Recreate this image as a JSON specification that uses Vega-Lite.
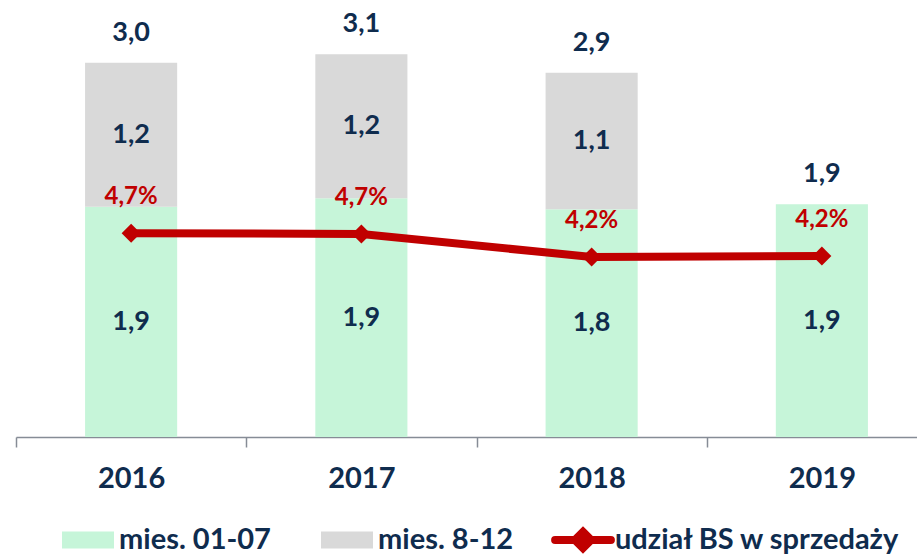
{
  "$schema": "https://vega.github.io/schema/vega-lite/v6.json",
  "autosize": "none",
  "width": 901,
  "height": 437,
  "padding": {"left": 16, "top": 0, "right": 0, "bottom": 119},
  "background": "white",
  "config": {
    "view": {"stroke": null},
    "font": "Lato",
    "text": {"font": "Lato"}
  },
  "datasets": {
    "bars": [
      {"year": "2016", "series": "mies. 01-07", "v": 1.87, "label": "1,9"},
      {"year": "2016", "series": "mies. 8-12", "v": 1.17, "label": "1,2"},
      {"year": "2017", "series": "mies. 01-07", "v": 1.94, "label": "1,9"},
      {"year": "2017", "series": "mies. 8-12", "v": 1.17, "label": "1,2"},
      {"year": "2018", "series": "mies. 01-07", "v": 1.85, "label": "1,8"},
      {"year": "2018", "series": "mies. 8-12", "v": 1.11, "label": "1,1"},
      {"year": "2019", "series": "mies. 01-07", "v": 1.89, "label": "1,9"}
    ],
    "totals": [
      {"year": "2016", "total": 3.04, "label": "3,0"},
      {"year": "2017", "total": 3.11, "label": "3,1"},
      {"year": "2018", "total": 2.96, "label": "2,9"},
      {"year": "2019", "total": 1.89, "label": "1,9"}
    ],
    "share": [
      {"year": "2016", "pct": 4.72, "label": "4,7%", "series": "udział BS w sprzedaży"},
      {"year": "2017", "pct": 4.70, "label": "4,7%", "series": "udział BS w sprzedaży"},
      {"year": "2018", "pct": 4.19, "label": "4,2%", "series": "udział BS w sprzedaży"},
      {"year": "2019", "pct": 4.21, "label": "4,2%", "series": "udział BS w sprzedaży"}
    ]
  },
  "encoding": {
    "x": {
      "field": "year", "type": "nominal",
      "scale": {"range": [0, 921], "paddingInner": 0, "paddingOuter": 0},
      "axis": {
        "title": null, "labelAngle": 0, "tickBand": "extent",
        "domainColor": "#868C96", "domainWidth": 1.5, "tickColor": "#868C96", "tickWidth": 1.5, "tickSize": 10,
        "labelFont": "Lato", "labelFontSize": 29, "labelFontWeight": "bold", "labelColor": "#0F2C4E",
        "labelPadding": 17, "grid": false
      }
    }
  },
  "layer": [
    {
      "layer": [
        {
          "data": {"name": "bars"},
          "mark": {"type": "bar", "width": {"band": 0.4}},
          "encoding": {
            "y": {"field": "v", "type": "quantitative", "aggregate": "sum", "stack": "zero", "scale": {"domain": [0, 3.55]}, "axis": null},
            "color": {
              "field": "series", "type": "nominal",
              "scale": {"domain": ["mies. 01-07", "mies. 8-12"], "range": ["#C6F5D9", "#D9D9D9"]},
              "legend": {
                "title": null, "orient": "none", "direction": "horizontal", "legendX": 46, "legendY": 514,
                "symbolType": "M-1,-0.33H1V0.33H-1Z", "symbolSize": 2704, "symbolStrokeWidth": 0,
                "labelFont": "Lato", "labelFontSize": 29, "labelFontWeight": "bold", "labelColor": "#0F2C4E",
                "labelOffset": 5, "columnPadding": 50, "padding": 0, "labelLimit": 400
              }
            },
            "order": {"field": "series", "sort": "ascending"}
          }
        },
        {
          "data": {"name": "bars"},
          "transform": [
            {"stack": "v", "groupby": ["year"], "sort": [{"field": "series"}], "as": ["v0", "v1"]},
            {"fold": ["v0", "v1"], "as": ["k", "pos"]}
          ],
          "mark": {"type": "text", "fontSize": 27, "fontWeight": "bold", "color": "#0F2C4E", "baseline": "middle"},
          "encoding": {
            "y": {"field": "pos", "type": "quantitative", "aggregate": "mean", "scale": {"domain": [0, 3.55]}, "axis": null},
            "detail": {"field": "series"},
            "text": {"field": "label"}
          }
        },
        {
          "data": {"name": "totals"},
          "mark": {"type": "text", "fontSize": 27, "fontWeight": "bold", "color": "#0F2C4E", "baseline": "middle", "dy": -30},
          "encoding": {
            "y": {"field": "total", "type": "quantitative", "scale": {"domain": [0, 3.55]}, "axis": null},
            "text": {"field": "label"}
          }
        }
      ]
    },
    {
      "data": {"name": "share"},
      "layer": [
        {
          "mark": {"type": "line", "strokeWidth": 8},
          "encoding": {
            "y": {"field": "pct", "type": "quantitative", "scale": {"domain": [0.19, 9.9]}, "axis": null},
            "stroke": {
              "field": "series", "type": "nominal",
              "scale": {"domain": ["udział BS w sprzedaży"], "range": ["#C00000"]},
              "legend": {
                "title": null, "orient": "none", "legendX": 533, "legendY": 506,
                "symbolType": "M-0.93,0H0.93M0,-0.27L0.27,0L0,0.27L-0.27,0Z", "symbolSize": 3600, "symbolStrokeWidth": 8,
                "labelFont": "Lato", "labelFontSize": 29, "labelFontWeight": "bold", "labelColor": "#0F2C4E",
                "labelOffset": -2, "padding": 0, "labelLimit": 400,
                "encode": {"symbols": {"update": {"fill": {"value": "#C00000"}, "stroke": {"value": "#C00000"}, "strokeCap": {"value": "round"}}}}
              }
            }
          }
        },
        {
          "mark": {"type": "point", "shape": "diamond", "filled": true, "size": 361, "color": "#C00000", "opacity": 1},
          "encoding": {
            "y": {"field": "pct", "type": "quantitative", "scale": {"domain": [0.19, 9.9]}, "axis": null}
          }
        },
        {
          "mark": {"type": "text", "fontSize": 24, "fontWeight": "bold", "color": "#C00000", "baseline": "middle", "dy": -36},
          "encoding": {
            "y": {"field": "pct", "type": "quantitative", "scale": {"domain": [0.19, 9.9]}, "axis": null},
            "text": {"field": "label"}
          }
        }
      ]
    }
  ],
  "resolve": {"scale": {"y": "independent"}}
}
